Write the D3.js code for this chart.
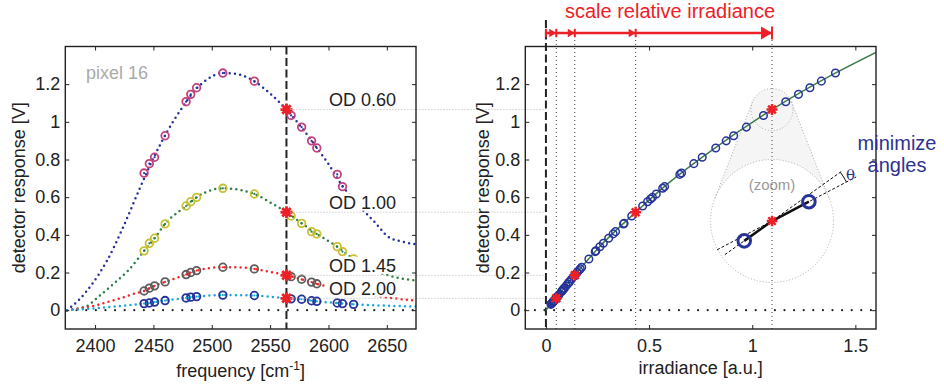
<!DOCTYPE html>
<html>
<head>
<meta charset="utf-8">
<script src="https://cdn.jsdelivr.net/npm/d3@7"></script>
<style>
body { margin: 0; background: #fff; }
svg { font-family: "Liberation Sans", Arial, sans-serif; }
</style>
</head>
<body>
<div class="container"></div>
<script>
const WIDTH = 944, HEIGHT = 388;
const TOP = 46.5, BOTTOM = 329;
const L_LEFT = 65.3, L_RIGHT = 416;
const R_LEFT = 525.3, R_RIGHT = 876;
const LABEL_X = 329;
const ARROW_Y = 33;

// measured points (circles), frequency in cm-1
const measFreq = [2442, 2446.5, 2451, 2460, 2478, 2482, 2487, 2509.5, 2536.5, 2568, 2577, 2585.5, 2590, 2607.5, 2612, 2621.5];
const od060 = [0.728, 0.778, 0.812, 0.926, 1.107, 1.146, 1.181, 1.259, 1.216, 1.034, 0.972, 0.899, 0.861, 0.721, 0.656, 0.59];
const od100 = [0.315, 0.355, 0.382, 0.458, 0.553, 0.576, 0.599, 0.647, 0.617, 0.500, 0.461, 0.417, 0.405, 0.337, 0.311, 0.272];
const od145 = [0.102, 0.117, 0.129, 0.150, 0.189, 0.200, 0.210, 0.228, 0.219, 0.178, 0.164, 0.149, 0.140, 0.115, 0.108, 0.097];
const od200 = [0.035, 0.038, 0.043, 0.051, 0.065, 0.069, 0.072, 0.080, 0.078, 0.060, 0.058, 0.050, 0.047, 0.038, 0.035, 0.031];
const odLabels = ["OD 0.60", "OD 1.00", "OD 1.45", "OD 2.00"];

// model spectra (dotted), [frequency, V]
const model060 = [[2376,0],[2387,0.06],[2397,0.135],[2410,0.26],[2424,0.44],[2438,0.642],[2451,0.82],[2462,0.95],[2473,1.06],[2486,1.17],[2496,1.225],[2509.5,1.26],[2523,1.252],[2536.5,1.215],[2550,1.15],[2564,1.065],[2577,0.97],[2590,0.862],[2599,0.785],[2612,0.66],[2621,0.59],[2630,0.529],[2640,0.465],[2651,0.39],[2663,0.364],[2675,0.35]];
const model100 = [[2376,0],[2392,0.019],[2401.5,0.064],[2410.5,0.111],[2419.7,0.161],[2429,0.214],[2442,0.315],[2451,0.382],[2460,0.458],[2478,0.553],[2487,0.599],[2509.5,0.647],[2536.5,0.617],[2552,0.565],[2564,0.52],[2577,0.461],[2590,0.405],[2607.5,0.337],[2621.5,0.272],[2640,0.21],[2661,0.17],[2675,0.158]];
const model145 = [[2376,0],[2400,0.025],[2420,0.06],[2435,0.09],[2442,0.102],[2451,0.129],[2460,0.15],[2478,0.189],[2487,0.21],[2509.5,0.228],[2525,0.227],[2536.5,0.219],[2550,0.203],[2564,0.185],[2577,0.164],[2590,0.14],[2607.5,0.115],[2621.5,0.097],[2640,0.077],[2660,0.06],[2675,0.051]];
const model200 = [[2376,0],[2400,0.01],[2420,0.022],[2442,0.035],[2451,0.043],[2460,0.051],[2478,0.065],[2487,0.072],[2509.5,0.08],[2536.5,0.078],[2564,0.063],[2577,0.058],[2590,0.047],[2607.5,0.038],[2621.5,0.031],[2650,0.024],[2675,0.019]];

// selected pixel frequency and its responses / scaled irradiance
const starFreq = 2564;
const starV = [1.065, 0.52, 0.185, 0.063];
const starIrr = [1.096, 0.435, 0.14, 0.05];

// detector response curve
const respIrr = [0, 0.05, 0.14, 0.25, 0.435, 0.6, 0.755, 1.096, 1.4, 1.6];
const respV = [0, 0.064, 0.186, 0.325, 0.52, 0.68, 0.81, 1.065, 1.257, 1.369];

// neighbours shown in the zoom inset
const zoomIrr = [1.05, 1.157];
const zoomV = [1.029, 1.100];

const yTicks = [0, 0.2, 0.4, 0.6, 0.8, 1, 1.2];
const xTicksL = [2400, 2450, 2500, 2550, 2600, 2650];
const xTicksR = [0, 0.5, 1, 1.5];

const curveColors = ["#24329c", "#2f7f45", "#f0282a", "#1ba8d4"];
const markerColors = ["#c2417e", "#c8c032", "#5e5e5e", "#26339a"];
const RED = "#ec2127", BLUE = "#2e3192";

const series = [od060, od100, od145, od200];
const models = [model060, model100, model145, model200];

const svg = d3.select('.container').append('svg')
	.attr('width', WIDTH)
	.attr('height', HEIGHT);

const xL = d3.scaleLinear().domain([2374.5, 2675]).range([L_LEFT, L_RIGHT]);
const yS = d3.scaleLinear().domain([-0.1, 1.4]).range([BOTTOM, TOP]);
const xR = d3.scaleLinear().domain([-0.1, 1.6]).range([R_LEFT, R_RIGHT]);

const defs = svg.append('defs');
defs.append('clipPath').attr('id', 'clipL').append('rect')
	.attr('x', L_LEFT).attr('y', TOP).attr('width', L_RIGHT - L_LEFT).attr('height', BOTTOM - TOP);
defs.append('clipPath').attr('id', 'clipR').append('rect')
	.attr('x', R_LEFT).attr('y', TOP).attr('width', R_RIGHT - R_LEFT).attr('height', BOTTOM - TOP);

var starPath = function(r) {
	var d = r * 0.7071;
	return 'M' + (-r) + ',0L' + r + ',0M0,' + (-r) + 'L0,' + r +
		'M' + (-d) + ',' + (-d) + 'L' + d + ',' + d + 'M' + (-d) + ',' + d + 'L' + d + ',' + (-d);
};

var drawStar = function(g, x, y, r, w) {
	g.append('path')
		.attr('d', starPath(r))
		.attr('transform', 'translate(' + x + ',' + y + ')')
		.attr('stroke', RED).attr('stroke-width', w).attr('fill', 'none');
};

var drawAxes = function(x, y, xTicks, left, right) {
	var g = svg.append('g');
	var styleAxis = function(sel) {
		sel.select('.domain').remove();
		sel.selectAll('line').attr('stroke', '#222').attr('stroke-width', 1);
		sel.selectAll('text').attr('font-size', 18).attr('fill', '#222')
			.attr('font-family', '"Liberation Sans", Arial, sans-serif');
	};
	g.append('g').attr('transform', 'translate(' + left + ',0)')
		.call(d3.axisLeft(y).tickValues(yTicks).tickSize(-4).tickPadding(5).tickFormat(String))
		.call(styleAxis);
	g.append('g').attr('transform', 'translate(' + right + ',0)')
		.call(d3.axisRight(y).tickValues(yTicks).tickSize(-4).tickFormat(''))
		.call(styleAxis);
	g.append('g').attr('transform', 'translate(0,' + BOTTOM + ')')
		.call(d3.axisBottom(x).tickValues(xTicks).tickSize(-4).tickPadding(10.5).tickFormat(String))
		.call(styleAxis);
	g.append('g').attr('transform', 'translate(0,' + TOP + ')')
		.call(d3.axisTop(x).tickValues(xTicks).tickSize(-4).tickFormat(''))
		.call(styleAxis);
	g.append('rect')
		.attr('x', left).attr('y', TOP).attr('width', right - left).attr('height', BOTTOM - TOP)
		.attr('fill', 'none').attr('stroke', '#222').attr('stroke-width', 1.4);
};

// ---------- left panel ----------
var gL = svg.append('g').attr('clip-path', 'url(#clipL)');

gL.append('line')
	.attr('x1', xL(model060[0][0])).attr('x2', L_RIGHT)
	.attr('y1', yS(0)).attr('y2', yS(0))
	.attr('stroke', '#222').attr('stroke-width', 2.2).attr('stroke-linecap', 'round')
	.attr('stroke-dasharray', '0 9.6');

var lineL = d3.line()
	.x(function(d) { return xL(d[0]); })
	.y(function(d) { return yS(d[1]); })
	.curve(d3.curveMonotoneX);

models.forEach(function(m, i) {
	gL.append('path')
		.attr('d', lineL(m))
		.attr('fill', 'none')
		.attr('stroke', curveColors[i])
		.attr('stroke-width', 2.5)
		.attr('stroke-linecap', 'round')
		.attr('stroke-dasharray', '0 5.3');
});

gL.append('line')
	.attr('x1', xL(starFreq)).attr('x2', xL(starFreq))
	.attr('y1', TOP).attr('y2', BOTTOM)
	.attr('stroke', '#222').attr('stroke-width', 2)
	.attr('stroke-dasharray', '8 3.5');

series.forEach(function(s, i) {
	var g = gL.append('g');
	g.selectAll('circle.m').data(s).enter().append('circle')
		.attr('cx', function(d, j) { return xL(measFreq[j]); })
		.attr('cy', function(d) { return yS(d); })
		.attr('r', 3.8)
		.attr('fill', 'none')
		.attr('stroke', markerColors[i])
		.attr('stroke-width', 1.8);
	g.selectAll('circle.c').data(s).enter().append('circle')
		.attr('cx', function(d, j) { return xL(measFreq[j]); })
		.attr('cy', function(d) { return yS(d); })
		.attr('r', 1.1)
		.attr('fill', curveColors[i]);
});

starV.forEach(function(v) { drawStar(gL, xL(starFreq), yS(v), 6, 2.8); });

// OD labels with white backing
odLabels.forEach(function(t, i) {
	var by = yS(starV[i]) - 3.5;
	svg.append('rect')
		.attr('x', LABEL_X - 2).attr('y', by - 15).attr('width', 71).attr('height', 17)
		.attr('fill', '#fff');
	svg.append('text')
		.attr('x', LABEL_X).attr('y', by)
		.attr('font-size', 18).attr('fill', '#222')
		.text(t);
});

svg.append('text')
	.attr('x', 86).attr('y', 79)
	.attr('font-size', 18).attr('fill', '#aaa')
	.text('pixel 16');

// connectors from the left stars to the right axis
starV.forEach(function(v) {
	svg.append('line')
		.attr('x1', xL(starFreq) + 4).attr('x2', xR(0))
		.attr('y1', yS(v)).attr('y2', yS(v))
		.attr('stroke', '#b4b4b4').attr('stroke-width', 1)
		.attr('stroke-dasharray', '1 2');
});

drawAxes(xL, yS, xTicksL, L_LEFT, L_RIGHT);

svg.append('text')
	.attr('transform', 'translate(25,' + ((TOP + BOTTOM) / 2) + ') rotate(-90)')
	.attr('text-anchor', 'middle').attr('font-size', 18).attr('fill', '#222')
	.text('detector response [V]');

var fl = svg.append('text')
	.attr('x', (L_LEFT + L_RIGHT) / 2).attr('y', 377)
	.attr('text-anchor', 'middle').attr('font-size', 18).attr('fill', '#222');
fl.append('tspan').text('frequency [cm');
fl.append('tspan').attr('font-size', 12).attr('dy', -7).text('-1');
fl.append('tspan').attr('dy', 7).text(']');

// ---------- right panel ----------
var gInset = svg.append('g').attr('clip-path', 'url(#clipR)');
var sc = [xR(starIrr[0]), yS(starV[0])];
var zc = [xR(starIrr[0]), 221];
var sr = 21, zr = 61.5, mag = zr / sr;

// cone between the two circles (outer tangents)
var ny = -(zr - sr) / (zc[1] - sc[1]);
var nx = Math.sqrt(1 - ny * ny);
var tp = function(c, r, s) { return [c[0] + s * nx * r, c[1] + ny * r]; };
var cone = [tp(sc, sr, -1), tp(zc, zr, -1), tp(zc, zr, 1), tp(sc, sr, 1)];
gInset.append('path')
	.attr('d', 'M' + cone.map(function(p) { return p.join(','); }).join('L') + 'Z')
	.attr('fill', '#f5f5f5');
gInset.append('circle').attr('cx', sc[0]).attr('cy', sc[1]).attr('r', sr).attr('fill', '#f5f5f5');
gInset.append('circle').attr('cx', zc[0]).attr('cy', zc[1]).attr('r', zr).attr('fill', '#fff');
[[cone[0], cone[1]], [cone[3], cone[2]]].forEach(function(s) {
	gInset.append('line')
		.attr('x1', s[0][0]).attr('y1', s[0][1]).attr('x2', s[1][0]).attr('y2', s[1][1])
		.attr('stroke', '#aaa').attr('stroke-width', 1).attr('stroke-dasharray', '1 2');
});
[[sc, sr], [zc, zr]].forEach(function(c) {
	gInset.append('circle').attr('cx', c[0][0]).attr('cy', c[0][1]).attr('r', c[1])
		.attr('fill', 'none').attr('stroke', '#aaa').attr('stroke-width', 1)
		.attr('stroke-dasharray', '1 2');
});
gInset.append('rect')
	.attr('x', zc[0] - 23).attr('y', zc[1] - 44).attr('width', 46).attr('height', 17)
	.attr('fill', '#fff');
gInset.append('text')
	.attr('x', zc[0]).attr('y', zc[1] - 31)
	.attr('text-anchor', 'middle').attr('font-size', 15).attr('fill', '#999')
	.text('(zoom)');

// guides
svg.append('line')
	.attr('x1', R_LEFT).attr('x2', R_RIGHT).attr('y1', yS(0)).attr('y2', yS(0))
	.attr('stroke', '#222').attr('stroke-width', 2.2).attr('stroke-linecap', 'round')
	.attr('stroke-dasharray', '0 9.6');

starIrr.forEach(function(s) {
	svg.append('line')
		.attr('x1', xR(s)).attr('x2', xR(s)).attr('y1', ARROW_Y + 3).attr('y2', BOTTOM)
		.attr('stroke', '#444').attr('stroke-width', 1).attr('stroke-dasharray', '1 3');
});

svg.append('line')
	.attr('x1', xR(0)).attr('x2', xR(0)).attr('y1', 20).attr('y2', BOTTOM)
	.attr('stroke', '#222').attr('stroke-width', 2).attr('stroke-dasharray', '8 3.5');

var gR = svg.append('g').attr('clip-path', 'url(#clipR)');

var resp = respIrr.map(function(x, i) { return [x, respV[i]]; });
gR.append('path')
	.attr('d', d3.line().x(function(d) { return xR(d[0]); }).y(function(d) { return yS(d[1]); })
		.curve(d3.curveMonotoneX)(resp))
	.attr('fill', 'none').attr('stroke', '#3d7d4c').attr('stroke-width', 1.5);

// measured values placed on the response curve
var invResp = d3.scaleLinear().domain(respV).range(respIrr);
var allV = d3.merge(series);
gR.selectAll('circle.p').data(allV).enter().append('circle')
	.attr('cx', function(d) { return xR(invResp(d)); })
	.attr('cy', function(d) { return yS(d); })
	.attr('r', 3.8)
	.attr('fill', 'none')
	.attr('stroke', '#26339a')
	.attr('stroke-width', 1.5);

starV.forEach(function(v, i) { drawStar(gR, xR(starIrr[i]), yS(v), 5.5, 2.5); });

// inset content
var zp = function(irr, v) {
	return [zc[0] + (xR(irr) - sc[0]) * mag, zc[1] + (yS(v) - sc[1]) * mag];
};
var pA = zp(zoomIrr[0], zoomV[0]), pB = zp(zoomIrr[1], zoomV[1]);
var unit = function(a, b) {
	var dx = b[0] - a[0], dy = b[1] - a[1], l = Math.sqrt(dx * dx + dy * dy);
	return [dx / l, dy / l];
};
var uA = unit(pA, zc), uB = unit(zc, pB);
var dashSeg = function(p, u, t0, t1) {
	svg.append('line')
		.attr('x1', p[0] + u[0] * t0).attr('y1', p[1] + u[1] * t0)
		.attr('x2', p[0] + u[0] * t1).attr('y2', p[1] + u[1] * t1)
		.attr('stroke', '#111').attr('stroke-width', 1).attr('stroke-dasharray', '3 2');
};
dashSeg(zc, uA, -58, 87);
dashSeg(zc, uB, -62, 95);
svg.append('path')
	.attr('d', 'M' + pA.join(',') + 'L' + zc.join(',') + 'L' + pB.join(','))
	.attr('fill', 'none').attr('stroke', '#111').attr('stroke-width', 2.6);
[pA, pB].forEach(function(p) {
	svg.append('circle').attr('cx', p[0]).attr('cy', p[1]).attr('r', 6.3)
		.attr('fill', 'none').attr('stroke', '#26339a').attr('stroke-width', 3);
});
drawStar(svg, zc[0], zc[1], 5.3, 2.4);
var ar = 84;
svg.append('path')
	.attr('d', 'M' + (zc[0] + uA[0] * ar) + ',' + (zc[1] + uA[1] * ar) +
		'A' + ar + ',' + ar + ' 0 0 1 ' + (zc[0] + uB[0] * ar) + ',' + (zc[1] + uB[1] * ar))
	.attr('fill', 'none').attr('stroke', '#111').attr('stroke-width', 1);
svg.append('text')
	.attr('x', zc[0] + 74).attr('y', zc[1] - 41.5)
	.attr('font-family', '"DejaVu Serif", "Liberation Serif", serif')
	.attr('font-size', 15).attr('fill', BLUE)
	.text('θ');

drawAxes(xR, yS, xTicksR, R_LEFT, R_RIGHT);

svg.append('text')
	.attr('transform', 'translate(489,' + ((TOP + BOTTOM) / 2) + ') rotate(-90)')
	.attr('text-anchor', 'middle').attr('font-size', 18).attr('fill', '#222')
	.text('detector response [V]');

svg.append('text')
	.attr('x', (R_LEFT + R_RIGHT) / 2).attr('y', 374)
	.attr('text-anchor', 'middle').attr('font-size', 18).attr('fill', '#222')
	.text('irradiance [a.u.]');

// scale arrows
var marks = [0].concat(starIrr.slice().sort(d3.ascending));
svg.append('line')
	.attr('x1', xR(0)).attr('x2', xR(marks[marks.length - 1]))
	.attr('y1', ARROW_Y).attr('y2', ARROW_Y)
	.attr('stroke', RED).attr('stroke-width', 2.6);
marks.forEach(function(m, i) {
	var big = i === marks.length - 1;
	var h = big ? 6.5 : 4.2, len = big ? 11 : 7, x = xR(m);
	svg.append('line')
		.attr('x1', x).attr('x2', x).attr('y1', ARROW_Y - h).attr('y2', ARROW_Y + h)
		.attr('stroke', RED).attr('stroke-width', 2);
	if (i > 0) {
		svg.append('path')
			.attr('d', 'M' + x + ',' + ARROW_Y + 'L' + (x - len) + ',' + (ARROW_Y - h) + 'L' + (x - len) + ',' + (ARROW_Y + h) + 'Z')
			.attr('fill', RED);
	}
});
svg.append('text')
	.attr('x', 670).attr('y', 18)
	.attr('text-anchor', 'middle').attr('font-size', 20).attr('fill', RED)
	.text('scale relative irradiance');

svg.append('text')
	.attr('x', 897).attr('y', 150)
	.attr('text-anchor', 'middle').attr('font-size', 20).attr('fill', BLUE)
	.text('minimize');
svg.append('text')
	.attr('x', 897).attr('y', 172)
	.attr('text-anchor', 'middle').attr('font-size', 20).attr('fill', BLUE)
	.text('angles');
</script>
</body>
</html>
